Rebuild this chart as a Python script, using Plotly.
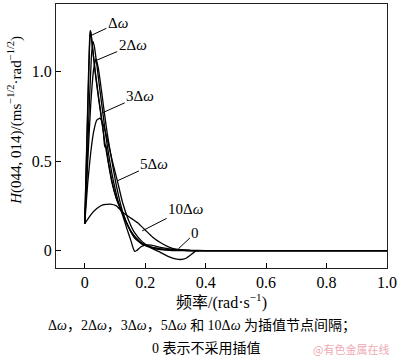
import plotly.graph_objects as go

# ---- data ----
x_0 = [0, 0.006, 0.012, 0.016, 0.019, 0.022, 0.027, 0.035, 0.045, 0.055, 0.066, 0.078, 0.09, 0.105, 0.125, 0.14, 0.152, 0.16, 0.165, 0.172, 0.185, 0.2, 0.22, 0.25, 0.28, 0.31, 0.35, 0.4, 0.5, 1.0]
y_0 = [0.15, 0.52, 0.9, 1.14, 1.23, 1.2, 1.12, 0.99, 0.86, 0.74, 0.61, 0.49, 0.38, 0.29, 0.2, 0.12, 0.06, 0.015, -0.005, 0.0, 0.02, 0.03, 0.03, 0.018, 0.01, 0.006, 0.002, 0, 0, 0]

x_d1 = [0, 0.006, 0.012, 0.016, 0.018, 0.021, 0.026, 0.035, 0.045, 0.055, 0.062, 0.066, 0.07, 0.078, 0.09, 0.105, 0.125, 0.14, 0.155, 0.17, 0.19, 0.21, 0.24, 0.27, 0.3, 0.35, 0.4, 0.5, 1.0]
y_d1 = [0.15, 0.55, 0.95, 1.17, 1.23, 1.21, 1.13, 1.0, 0.87, 0.75, 0.66, 0.58, 0.59, 0.5, 0.39, 0.29, 0.21, 0.15, 0.1, 0.07, 0.04, 0.025, 0.012, 0.005, 0.002, 0, 0, 0, 0]

x_d2 = [0, 0.008, 0.016, 0.022, 0.027, 0.032, 0.04, 0.05, 0.06, 0.07, 0.08, 0.09, 0.1, 0.11, 0.125, 0.14, 0.16, 0.18, 0.2, 0.23, 0.26, 0.3, 0.35, 0.4, 0.5, 1.0]
y_d2 = [0.15, 0.48, 0.85, 1.08, 1.17, 1.14, 1.04, 0.9, 0.77, 0.64, 0.53, 0.43, 0.35, 0.28, 0.21, 0.15, 0.09, 0.05, 0.03, 0.015, 0.008, 0.003, 0, 0, 0, 0]

x_d3 = [0, 0.01, 0.02, 0.03, 0.037, 0.045, 0.055, 0.065, 0.075, 0.09, 0.105, 0.125, 0.145, 0.165, 0.19, 0.22, 0.25, 0.29, 0.33, 0.4, 0.5, 1.0]
y_d3 = [0.15, 0.5, 0.82, 1.02, 1.07, 1.02, 0.9, 0.77, 0.65, 0.5, 0.36, 0.22, 0.13, 0.07, 0.035, 0.015, 0.005, 0, 0, 0, 0, 0]

x_d5 = [0, 0.01, 0.02, 0.03, 0.04, 0.05, 0.06, 0.075, 0.09, 0.108, 0.125, 0.145, 0.165, 0.19, 0.22, 0.25, 0.28, 0.3, 0.318, 0.335, 0.35, 0.367, 0.38, 0.4, 0.5, 1.0]
y_d5 = [0.15, 0.38, 0.55, 0.67, 0.73, 0.74, 0.71, 0.62, 0.51, 0.39, 0.27, 0.17, 0.1, 0.05, 0.015, -0.01, -0.035, -0.046, -0.05, -0.043, -0.025, -0.003, 0, 0, 0, 0]

x_d10 = [0, 0.02, 0.04, 0.06, 0.085, 0.105, 0.125, 0.15, 0.175, 0.2, 0.225, 0.25, 0.275, 0.3, 0.33, 0.36, 0.4, 0.5, 1.0]
y_d10 = [0.15, 0.2, 0.235, 0.255, 0.26, 0.25, 0.215, 0.185, 0.155, 0.115, 0.075, 0.045, 0.022, 0.008, 0.001, 0, 0, 0, 0]

x_ticks = [0, 0.2, 0.4, 0.6, 0.8, 1.0]
x_tick_labels = ["0", "0.2", "0.4", "0.6", "0.8", "1.0"]
y_ticks = [0, 0.5, 1.0]
y_tick_labels = ["0", "0.5", "1.0"]

series = [
    ("0", x_0, y_0),
    ("Δω", x_d1, y_d1),
    ("2Δω", x_d2, y_d2),
    ("3Δω", x_d3, y_d3),
    ("5Δω", x_d5, y_d5),
    ("10Δω", x_d10, y_d10),
]

# label text, point on curve (data), text offset in px
labels = [
    ("Δ<i>ω</i>", 0.017, 1.2, 28, -13),
    ("2Δ<i>ω</i>", 0.033, 1.06, 38, -16),
    ("3Δ<i>ω</i>", 0.058, 0.77, 38, -17),
    ("5Δ<i>ω</i>", 0.108, 0.39, 37, -17),
    ("10Δ<i>ω</i>", 0.19, 0.11, 43, -22),
    ("0", 0.31, 0.01, 17, -16),
]

SERIF = "Liberation Serif, Times New Roman, Noto Sans CJK SC, serif"

fig = go.Figure()
for name, xs, ys in series:
    fig.add_trace(go.Scatter(x=xs, y=ys, mode="lines", name=name,
                             line=dict(color="black", width=1.3, shape="spline", smoothing=0.4),
                             showlegend=False, hoverinfo="skip"))

for txt, xp, yp, axo, ayo in labels:
    fig.add_annotation(x=xp, y=yp, xref="x", yref="y", text=txt,
                       showarrow=True, arrowhead=0, arrowwidth=1, arrowcolor="black",
                       ax=axo, ay=ayo, font=dict(family=SERIF, size=15, color="black"),
                       xanchor="center", yanchor="middle")

fig.update_xaxes(range=[-0.095, 1.0], tickvals=x_ticks, ticktext=x_tick_labels,
                 ticks="inside", ticklen=5, tickcolor="black", tickwidth=1,
                 showline=True, linecolor="#222", linewidth=1.2, mirror=True,
                 showgrid=False, zeroline=False,
                 tickfont=dict(family=SERIF, size=16, color="black"))
fig.update_yaxes(range=[-0.0975, 1.379], tickvals=y_ticks, ticktext=y_tick_labels,
                 ticks="inside", ticklen=5, tickcolor="black", tickwidth=1,
                 showline=True, linecolor="#222", linewidth=1.2, mirror=True,
                 showgrid=False, zeroline=False,
                 tickfont=dict(family=SERIF, size=16, color="black"))

# axis titles & caption as annotations
fig.add_annotation(xref="paper", yref="paper", x=-0.125, y=0.56, showarrow=False,
                   text="<i>H</i>(044, 014)/(ms<sup>−1/2</sup>·rad<sup>−1/2</sup>)",
                   textangle=-90, font=dict(family=SERIF, size=15, color="black"),
                   xanchor="center", yanchor="middle")
fig.add_annotation(xref="paper", yref="paper", x=(222 - 56) / 333, y=-(302 - 268) / 265,
                   showarrow=False, text="频率/(rad·s<sup>−1</sup>)",
                   font=dict(family=SERIF, size=16, color="black"),
                   xanchor="center", yanchor="middle")
fig.add_annotation(xref="paper", yref="paper", x=(203 - 56) / 333, y=-(326 - 268) / 265,
                   showarrow=False,
                   text="Δ<i>ω</i>，2Δ<i>ω</i>，3Δ<i>ω</i>，5Δ<i>ω</i> 和 10Δ<i>ω</i> 为插值节点间隔；",
                   font=dict(family=SERIF, size=14, color="black"),
                   xanchor="center", yanchor="middle")
fig.add_annotation(xref="paper", yref="paper", x=(207 - 56) / 333, y=-(349 - 268) / 265,
                   showarrow=False, text="0 表示不采用插值",
                   font=dict(family=SERIF, size=14, color="black"),
                   xanchor="center", yanchor="middle")
fig.add_annotation(xref="paper", yref="paper", x=(353 - 56) / 333, y=-(349 - 268) / 265,
                   showarrow=False, text="@有色金属在线",
                   font=dict(family="Noto Sans CJK SC", size=11, color="#eeaab2"),
                   xanchor="center", yanchor="middle")

fig.update_layout(width=400, height=363, margin=dict(l=56, r=11, t=3, b=95),
                  paper_bgcolor="white", plot_bgcolor="white")

fig.write_html("out.html", config={"displayModeBar": False},
               post_script="document.body.style.margin='0';document.body.style.padding='0';")
